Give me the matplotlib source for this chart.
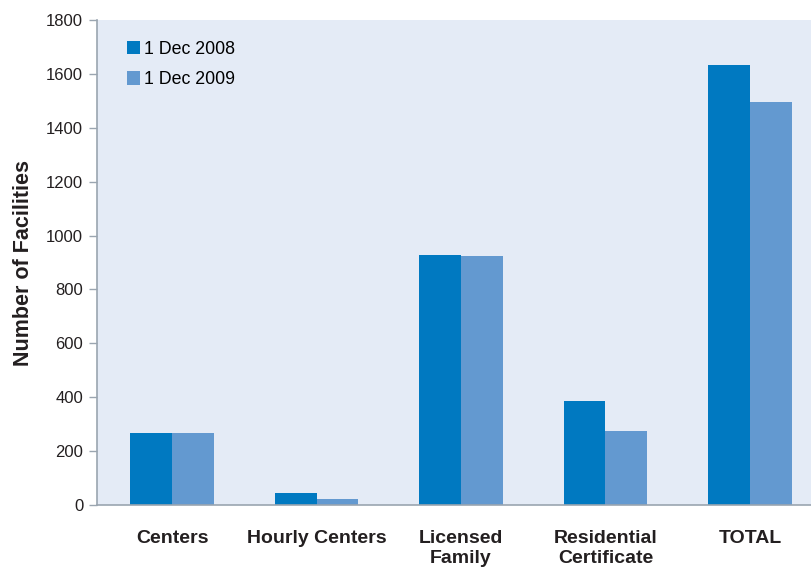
import matplotlib.pyplot as plt
import numpy as np

plt.rcParams['font.family'] = ['Liberation Sans', 'DejaVu Sans']

categories = ['Centers', 'Hourly Centers', 'Licensed\nFamily',
              'Residential\nCertificate', 'TOTAL']
dec_2008 = [268, 45, 928, 386, 1633]
dec_2009 = [268, 24, 924, 275, 1496]
series_names = ['1 Dec 2008', '1 Dec 2009']

x = np.arange(len(categories))
w = 0.29

fig = plt.figure(figsize=(8.12, 5.67), dpi=100)
ax = fig.add_axes([0.1195, 0.109, 0.8805, 0.856])
ax.set_facecolor('#e4ebf6')

ax.bar(x - w / 2, dec_2008, w, color='#0079c1', label=series_names[0])
ax.bar(x + w / 2, dec_2009, w, color='#6399d0', label=series_names[1])

ax.set_xlim(-0.52, 4.43)
ax.set_ylim(0, 1800)
ax.set_yticks(range(0, 1801, 200))
ax.set_xticks(x)
ax.set_xticklabels(categories, fontsize=14, fontweight='bold',
                   color='#231f20', linespacing=1.2)
ax.tick_params(axis='x', length=0, pad=18)
ax.tick_params(axis='y', labelsize=12, colors='#9aa5b0', labelcolor='#231f20',
               length=6, width=1, direction='out', pad=4)

for s in ['top', 'right']:
    ax.spines[s].set_visible(False)
for s in ['left', 'bottom']:
    ax.spines[s].set_color('#9aa5b0')
    ax.spines[s].set_linewidth(1.2)

ax.set_ylabel('Number of Facilities', fontsize=15.5, fontweight='bold',
              color='#231f20', labelpad=9)

leg = ax.legend(loc='upper left', frameon=False, fontsize=12.8,
                bbox_to_anchor=(0.02, 0.99), handlelength=0.7,
                handleheight=0.8, handletextpad=0.25, labelspacing=0.75)

fig.savefig('out.png', dpi=100)
